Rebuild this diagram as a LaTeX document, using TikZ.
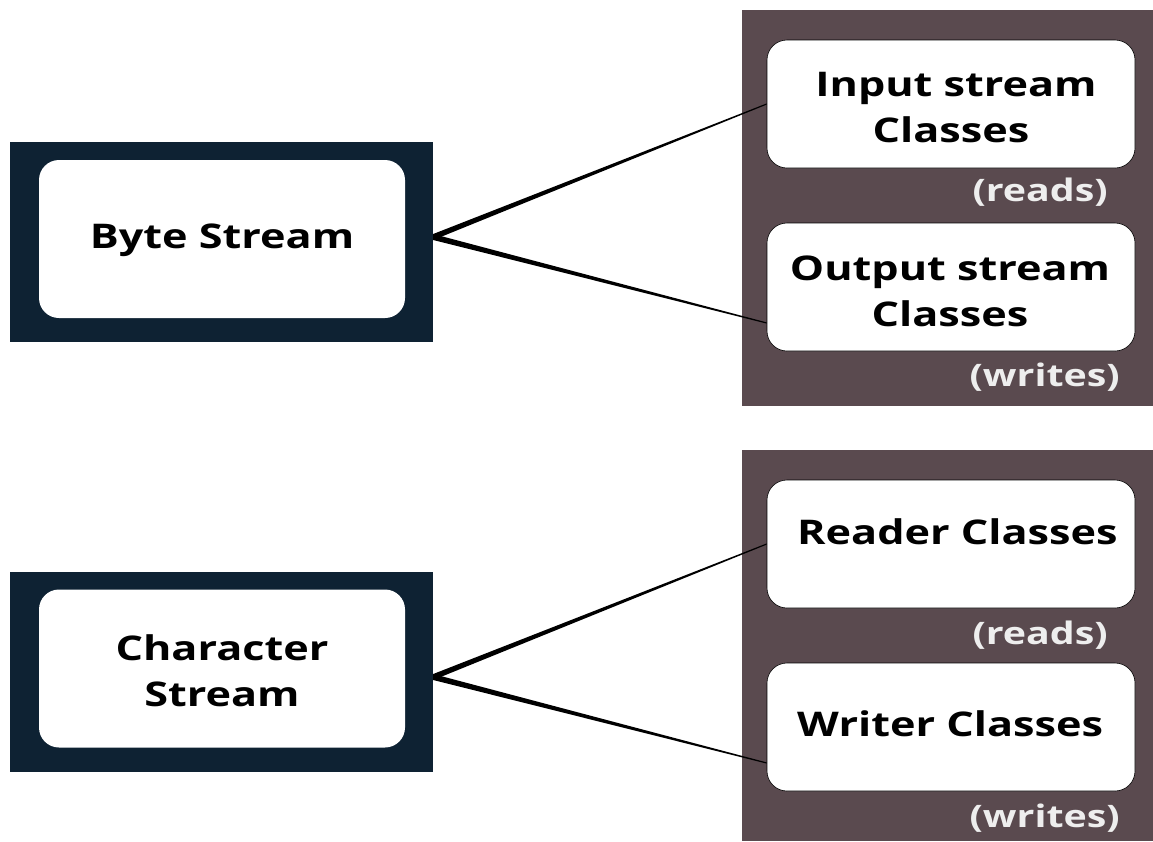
\documentclass[tikz,border=0pt]{standalone}
\usepackage{fontspec}
\setmainfont{Open Sans}[FakeStretch=1.27]
\usetikzlibrary{calc}
\definecolor{navy}{HTML}{0E2233}
\definecolor{panel}{HTML}{5A4A4F}
\definecolor{note}{HTML}{EEEEEE}
\tikzset{
  frame/.style={fill=navy, draw=none, minimum width=423, minimum height=200, inner sep=0},
  kind/.style={fill=white, draw=none, rounded corners=20, minimum width=366, minimum height=158, inner sep=0},
  panelbox/.style={fill=panel, draw=none, inner sep=0},
  classbox/.style={fill=white, draw=black, line width=0.6, rounded corners=20, minimum width=368,
    minimum height=128, inner sep=0},
  label/.style={inner sep=0, align=center, font=\fontsize{34}{46}\selectfont\bfseries},
  notetext/.style={text=note, inner sep=0, anchor=east, font=\fontsize{31}{36}\selectfont\bfseries},
}
% tapered connector: thick at the stream box, thin at the class box
\newcommand{\taper}[2]{%
  \fill[black] ($(#1)+(0,-3)$) -- ($(#2)+(0,-0.6)$) -- ($(#2)+(0,0.6)$) -- ($(#1)+(0,3)$) -- cycle;}
\begin{document}
\begin{tikzpicture}[x=1pt,y=-1pt]
\useasboundingbox (0,0) rectangle (1153,841);

% ---- byte stream group ----
\node[frame] (bframe) at (221.5,242) {};
\node[kind] (byte) at (222,239) {};
\node[label] (byte-t) at ($(byte)+(0,1)$) {Byte Stream};
\node[panelbox, minimum width=411, minimum height=396] (bpanel) at (947.5,208) {};
\node[classbox] (input) at (951,104) {};
\node[label] (input-t) at ($(input)+(0,4)$) {\hspace*{10pt}Input stream\\Classes};
\node[classbox] (output) at (951,287) {};
\node[label] (output-t) at ($(output)+(-1,4)$) {Output stream\\Classes};
\node[notetext] (bread) at (1108,192) {(reads)};
\node[notetext] (bwrite) at (1120,377) {(writes)};
\coordinate (bapex) at (bframe.east |- 0,237);
\coordinate (inend) at (input.west);
\coordinate (outend) at ($(output.west)+(0,36)$);
\taper{bapex}{inend}
\taper{bapex}{outend}

% ---- character stream group ----
\node[frame] (cframe) at (221.5,672) {};
\node[kind] (char) at (222,668.5) {};
\node[label] (char-t) at ($(char)+(0,2)$) {Character\\Stream};
\node[panelbox, minimum width=411, minimum height=391] (cpanel) at (947.5,645.5) {};
\node[classbox] (reader) at (951,544) {};
\node[label, anchor=west] (reader-t) at (797,532) {Reader Classes};
\node[classbox] (writer) at (951,727) {};
\node[label, anchor=west] (writer-t) at (797,724) {Writer Classes};
\node[notetext] (cread) at (1108,635) {(reads)};
\node[notetext] (cwrite) at (1120,818) {(writes)};
\coordinate (capex) at (cframe.east |- 0,677);
\coordinate (rdend) at (reader.west);
\coordinate (wrend) at ($(writer.west)+(0,36)$);
\taper{capex}{rdend}
\taper{capex}{wrend}
\end{tikzpicture}
\end{document}
